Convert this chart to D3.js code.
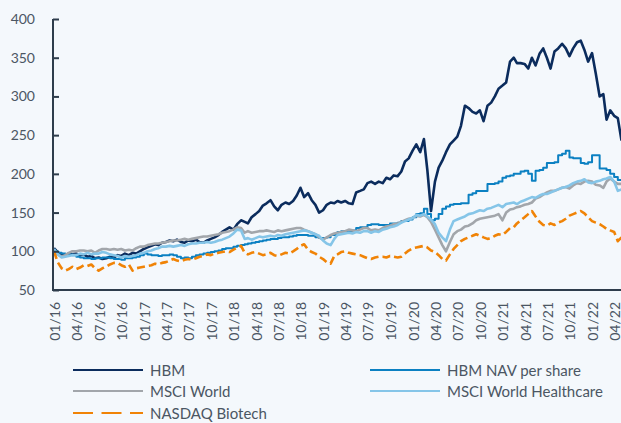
<!DOCTYPE html>
<html><head><meta charset="utf-8">
<script src="https://cdn.jsdelivr.net/npm/d3@7"></script>
<style>
html,body{margin:0;padding:0;background:#f4f8fc;}
svg{display:block;font-family:Lato,"Open Sans",sans-serif;}
</style></head>
<body><svg id="c" width="621" height="423"></svg>
<script>
(function(){
// Half-monthly observation dates (1st and 16th of each month), Jan 2016 – May 2022
const years = [2016, 2017, 2018, 2019, 2020, 2021, 2022];
const obsDays = [1, 16];
const dates = [];
years.forEach(yr => d3.range(12).forEach(m => obsDays.forEach(dd => {
  const dt = new Date(yr, m, dd);
  if (dt <= new Date(2022, 4, 1)) dates.push(dt);
})));

const seriesNames = ["HBM", "HBM NAV per share", "MSCI World", "MSCI World Healthcare", "NASDAQ Biotech"];

const hbm = [104,99,96,95,97,96,97,95,96,93,94,91,92,90,91,93,92,95,94,97,95,98,97,100,
103,105,107,109,108,111,112,114,113,115,112,111,114,113,115,112,111,114,116,118,121,125,128,131,
128,135,140,138,136,144,148,152,159,162,166,158,153,160,163,161,165,172,182,170,175,166,160,150,
153,160,163,162,165,163,165,162,161,176,178,180,188,190,187,190,188,195,193,198,197,203,216,220,
230,238,228,245,205,152,190,208,217,228,238,243,248,262,288,285,280,278,282,268,288,292,300,310,
314,318,345,350,343,343,342,336,350,340,355,362,350,336,358,362,368,362,352,362,370,372,360,345,
356,330,300,303,270,282,275,272,243];

const nav = [100,98,97,96,96,95,93,92,91,91,90,91,91,92,92,91,90,90,89,91,91,92,93,95,
97,96,95,95,94,95,95,96,95,93,91,92,91,93,95,96,97,98,99,100,101,103,104,104,
106,107,108,109,110,111,112,113,114,115,116,116,117,118,118,119,120,121,121,121,120,120,118,117,
117,118,121,121,125,126,126,126,127,130,131,131,134,135,135,134,134,134,136,136,137,139,139,141,
144,148,149,155,148,140,142,148,155,158,160,161,161,162,162,173,175,178,178,178,187,187,188,190,
195,197,198,200,200,203,204,200,191,204,205,208,214,214,215,224,226,230,221,220,220,214,213,215,
224,224,207,207,205,200,196,192,191];

const msciWorld = [100,96,93,95,98,100,100,101,101,100,101,98,101,103,103,102,103,102,103,101,102,101,104,106,
106,108,109,110,110,111,112,113,114,114,115,116,115,116,117,118,119,119,120,121,122,124,125,126,
128,131,130,124,126,124,125,126,126,127,126,125,127,126,127,128,129,130,130,128,126,124,122,118,
115,118,121,123,124,125,126,128,127,126,128,130,130,127,128,127,130,132,133,135,136,138,140,142,
143,146,145,147,144,138,128,118,108,100,112,122,126,128,132,133,136,140,142,143,144,145,146,148,
140,150,154,155,157,158,160,161,163,168,170,173,176,178,178,180,182,183,181,185,188,187,190,191,
190,186,185,182,190,194,190,187,187];

const msciHealth = [103,96,92,93,94,95,95,97,96,98,96,97,97,99,98,96,95,94,92,94,93,94,95,97,
98,100,101,103,104,106,106,107,106,107,108,107,109,110,110,111,111,112,111,112,114,115,117,119,
123,128,127,116,117,115,117,119,118,119,120,119,121,120,122,123,124,125,126,127,126,124,122,120,
114,110,108,116,121,122,123,124,123,125,124,126,126,124,126,125,128,129,131,132,134,137,139,141,
143,147,146,148,145,141,135,124,118,113,128,139,141,143,145,148,149,151,153,152,155,156,158,160,
157,161,162,163,161,164,166,168,170,169,172,174,174,176,178,180,182,183,185,188,190,191,193,189,
188,190,191,193,194,196,190,178,180];

const nasdaqBio = [100,86,78,75,77,80,77,79,82,81,83,78,75,78,80,83,85,85,82,80,83,75,78,79,
80,81,82,84,83,85,86,88,90,88,87,89,90,89,91,93,94,96,95,97,98,99,100,99,
102,105,107,98,96,98,99,97,95,96,98,95,94,96,98,97,100,103,107,109,102,99,97,93,
90,86,84,94,96,99,100,98,97,96,95,93,91,90,92,93,93,92,94,93,92,93,97,101,
104,105,106,107,105,101,99,95,90,88,96,103,108,113,116,118,120,122,120,118,116,117,120,122,
121,125,130,131,136,140,144,148,152,145,138,134,133,136,134,137,139,142,146,148,150,152,149,144,
139,137,135,132,129,127,125,113,118];

const yTicks = [50, 100, 150, 200, 250, 300, 350, 400];
const xTickStart = new Date(2016, 0, 1), xTickEnd = new Date(2022, 3, 1);

const colors = ["#0b2c5d", "#0b80c2", "#a2a6ab", "#85c5e8", "#f08306"];
const widths = [2.6, 2.0, 2.6, 2.6, 2.6];
const dashes = [null, null, null, null, "8,4"];
const curves = [d3.curveLinear, d3.curveStepAfter, d3.curveLinear, d3.curveLinear, d3.curveLinear];
const allSeries = [hbm, nav, msciWorld, msciHealth, nasdaqBio];

const svg = d3.select("#c");
const W = 621, H = 423;
const mLeft = 53, mTop = 19, mBottom = 290, mRight = 621.5;

const x = d3.scaleTime().domain([dates[0], dates[dates.length - 1]]).range([54, mRight]);
const y = d3.scaleLinear().domain([50, 400]).range([mBottom, mTop]);

svg.append("rect").attr("width", W).attr("height", H).attr("fill", "#f4f8fc");

const plot = svg.append("g");
allSeries.forEach((vals, k) => {
  const line = d3.line().x((v, i) => x(dates[i])).y(v => y(v)).curve(curves[k]);
  plot.append("path").datum(vals)
    .attr("d", line).attr("fill", "none")
    .attr("stroke", colors[k]).attr("stroke-width", widths[k])
    .attr("stroke-linejoin", "round")
    .attr("stroke-dasharray", dashes[k]);
});

const yAxis = d3.axisLeft(y).tickValues(yTicks).tickSize(-6).tickPadding(18);
const gy = svg.append("g").attr("transform", `translate(${mLeft},0)`).call(yAxis);
gy.select(".domain").remove();
gy.selectAll(".tick line").attr("stroke", "#2e3d4c").attr("stroke-width", 2);
gy.selectAll(".tick text").attr("fill", "#4b5663").style("font-size", "14px").style("font-family", "Lato");

const xt = d3.timeMonth.every(3).range(xTickStart, d3.timeDay.offset(xTickEnd, 1));
const xAxis = d3.axisBottom(x).tickValues(xt).tickFormat(d3.timeFormat("%m/%y")).tickSize(0);
const gx = svg.append("g").attr("transform", `translate(0,${mBottom})`).call(xAxis);
gx.select(".domain").remove();
gx.selectAll(".tick text")
  .attr("fill", "#4b5663").style("font-size", "14px").style("font-family", "Lato")
  .attr("text-anchor", "end").attr("dy", null).attr("y", 0)
  .attr("transform", "translate(0,12) rotate(-90)")
  .attr("dominant-baseline", "central");

svg.append("line").attr("x1", mLeft).attr("x2", mLeft).attr("y1", mTop).attr("y2", mBottom + 1)
  .attr("stroke", "#2e3d4c").attr("stroke-width", 2);
svg.append("line").attr("x1", mLeft - 1).attr("x2", W).attr("y1", mBottom).attr("y2", mBottom)
  .attr("stroke", "#2e3d4c").attr("stroke-width", 2);

const legPos = [[73, 370], [370, 370], [73, 391], [370, 391], [73, 413]];
const legDash = [null, null, null, null, "20,8.5"];
seriesNames.forEach((nm, k) => {
  const [lx, ly] = legPos[k];
  svg.append("line").attr("x1", lx).attr("x2", lx + 70).attr("y1", ly).attr("y2", ly)
    .attr("stroke", colors[k]).attr("stroke-width", 2.2).attr("stroke-dasharray", legDash[k]);
  svg.append("text").attr("x", lx + 77).attr("y", ly).attr("dominant-baseline", "central")
    .attr("fill", "#4b5663").style("font-size", "15px").text(nm);
});
})();
</script></body></html>
